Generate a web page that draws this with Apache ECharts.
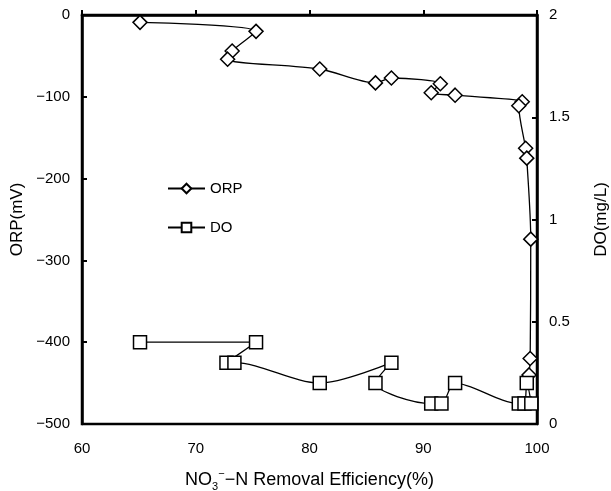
<!DOCTYPE html>
<html>
<head>
<meta charset="utf-8">
<script src="https://cdn.jsdelivr.net/npm/echarts@6/dist/echarts.min.js"></script>
<style>
  html, body { margin: 0; padding: 0; background: #fff; }
  #chart { width: 611px; height: 491px; }
</style>
</head>
<body>
<div id="chart"></div>
<script>
// removal efficiency (%) vs ORP (mV)
var orpX = [65.1, 75.3, 73.2, 72.8, 80.9, 85.8, 87.2, 91.5, 90.7, 92.8, 98.7, 98.4, 99.0, 99.1, 99.45, 99.4, 99.3];
var orpY = [-9, -20, -44, -54, -66, -83, -77, -84, -95, -98, -106, -111, -163, -175, -274, -420, -440];
// removal efficiency (%) vs DO (mg/L)
var doX = [65.1, 75.3, 72.7, 73.4, 80.9, 87.2, 85.8, 90.7, 91.6, 92.8, 98.4, 98.9, 99.1, 99.5];
var doY = [0.4, 0.4, 0.3, 0.3, 0.2, 0.3, 0.2, 0.1, 0.1, 0.2, 0.1, 0.1, 0.2, 0.1];

var font = 'Liberation Sans, Arial, sans-serif';

function pairs(xs, ys) {
    return xs.map(function (x, i) { return [x, ys[i]]; });
}
function minus(v) {
    return String(v).replace('-', '\u2212');
}

var myChart = echarts.init(document.getElementById('chart'));
myChart.setOption({
    animation: false,
    backgroundColor: '#fff',
    textStyle: { fontFamily: font },
    grid: {
        left: 82, right: 74, top: 15, bottom: 67,
        outerBoundsMode: 'none',
        show: true, borderColor: '#000', borderWidth: 2.5
    },
    legend: {
        orient: 'vertical',
        left: 162, top: 176,
        itemWidth: 37, itemHeight: 12, itemGap: 24,
        textStyle: { fontSize: 15, color: '#000', fontFamily: font },
        data: ['ORP', 'DO']
    },
    xAxis: {
        type: 'value', min: 60, max: 100, interval: 10,
        name: '{a|NO}{sub|3}{sup|\u2212}{a|\u2212N Removal Efficiency(%)}',
        nameLocation: 'middle', nameGap: 44,
        nameTextStyle: {
            color: '#000',
            rich: {
                a: { fontSize: 18, color: '#000', fontFamily: font, lineHeight: 24 },
                sub: { fontSize: 11, color: '#000', fontFamily: font, verticalAlign: 'bottom', lineHeight: 24 },
                sup: { fontSize: 11, color: '#000', fontFamily: font, verticalAlign: 'top', lineHeight: 24 }
            }
        },
        axisLine: { lineStyle: { color: '#000', width: 2.5 } },
        axisTick: { inside: true, length: 5, lineStyle: { color: '#000', width: 2 } },
        axisLabel: { color: '#000', fontSize: 15, margin: 17 },
        splitLine: { show: false }
    },
    yAxis: [{
        type: 'value', min: -500, max: 0, interval: 100,
        name: 'ORP(mV)', nameLocation: 'middle', nameGap: 55, nameRotate: 90,
        nameTextStyle: { color: '#000', fontSize: 17 },
        axisLine: { show: true, lineStyle: { color: '#000', width: 2.5 } },
        axisTick: { show: true, inside: true, length: 5, lineStyle: { color: '#000', width: 2 } },
        axisLabel: { color: '#000', fontSize: 15, margin: 12, formatter: minus },
        splitLine: { show: false }
    }, {
        type: 'value', min: 0, max: 2, interval: 0.5, position: 'right',
        name: 'DO(mg/L)', nameLocation: 'middle', nameGap: 56, nameRotate: 90,
        nameTextStyle: { color: '#000', fontSize: 17 },
        axisLine: { show: true, lineStyle: { color: '#000', width: 2.5 } },
        axisTick: { show: true, inside: true, length: 5, lineStyle: { color: '#000', width: 2 } },
        axisLabel: { color: '#000', fontSize: 15, margin: 12 },
        splitLine: { show: false }
    }],
    series: [{
        name: 'ORP', type: 'line', yAxisIndex: 0,
        data: pairs(orpX, orpY),
        smooth: 0.3,
        symbol: 'diamond', symbolSize: 14,
        lineStyle: { color: '#000', width: 1.3 },
        itemStyle: { color: '#fff', borderColor: '#000', borderWidth: 1.5 }
    }, {
        name: 'DO', type: 'line', yAxisIndex: 1,
        data: pairs(doX, doY),
        smooth: 0.3,
        symbol: 'rect', symbolSize: 13,
        lineStyle: { color: '#000', width: 1.3 },
        itemStyle: { color: '#fff', borderColor: '#000', borderWidth: 1.5 }
    }]
});
</script>
</body>
</html>
